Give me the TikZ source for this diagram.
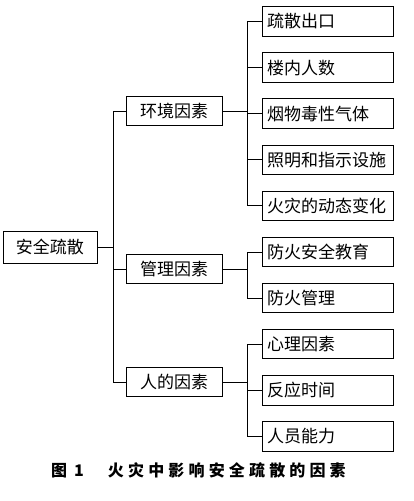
\documentclass[tikz,border=0pt]{standalone}
\usepackage{fontspec}
\setmainfont{Noto Sans CJK SC}
\usetikzlibrary{positioning}
\tikzset{
  leaf/.style={draw, rectangle, minimum height=29.5pt, text width=121pt, inner sep=5pt, align=left},
  mid/.style={draw, rectangle, minimum height=29pt, minimum width=96pt, inner sep=2pt},
}

\begin{document}
\begin{tikzpicture}[x=1pt, y=-1pt, line width=1pt, node distance=15.6pt, font=\fontsize{17}{18}\selectfont]
\useasboundingbox[fill=white] (0,0) rectangle (413,501);

\node[draw,rectangle,minimum width=94pt,minimum height=32pt] (root) at (50,247) {安全疏散};
\node[mid] (env) at (174,111) {环境因素};
\node[mid] (mgt) at (174,269) {管理因素};
\node[mid] (hum) at (174,382) {人的因素};

\node[leaf] (a1) at (327.5,21.5) {疏散出口};
\node[leaf,below=of a1] (a2) {楼内人数};
\node[leaf,below=of a2] (a3) {烟物毒性气体};
\node[leaf,below=of a3] (a4) {照明和指示设施};
\node[leaf,below=of a4] (a5) {火灾的动态变化};
\node[leaf,below=of a5] (b1) {防火安全教育};
\node[leaf,below=of b1] (b2) {防火管理};
\node[leaf,below=of b2] (c1) {心理因素};
\node[leaf,below=of c1] (c2) {反应时间};
\node[leaf,below=of c2] (c3) {人员能力};

\node[font=\fontsize{16}{18}\selectfont\bfseries] (cap) at (198.5,470)
  {图\hspace{7pt}1\hspace{24pt}{\addfontfeature{LetterSpace=26}火灾中影响安全疏散的因素}};

% trunk lines
\coordinate (tk) at (113,0);
\coordinate (bk) at (247,0);

\draw (root.east) -- (root.east -| tk);
\draw (env.west) -- (env.west -| tk) -- (hum.west -| tk) -- (hum.west);
\draw (mgt.west) -- (mgt.west -| tk);

% branch lines
\draw (env.east) -- (env.east -| bk);
\draw (a1.west) -- (a1.west -| bk) -- (a5.west -| bk) -- (a5.west);
\foreach \n in {a2,a3,a4}
  \draw (\n.west) -- (\n.west -| bk);

\draw (mgt.east) -- (mgt.east -| bk);
\draw (b1.west) -- (b1.west -| bk) -- (b2.west -| bk) -- (b2.west);

\draw (hum.east) -- (hum.east -| bk);
\draw (c1.west) -- (c1.west -| bk) -- (c3.west -| bk) -- (c3.west);
\draw (c2.west) -- (c2.west -| bk);

\end{tikzpicture}
\end{document}
